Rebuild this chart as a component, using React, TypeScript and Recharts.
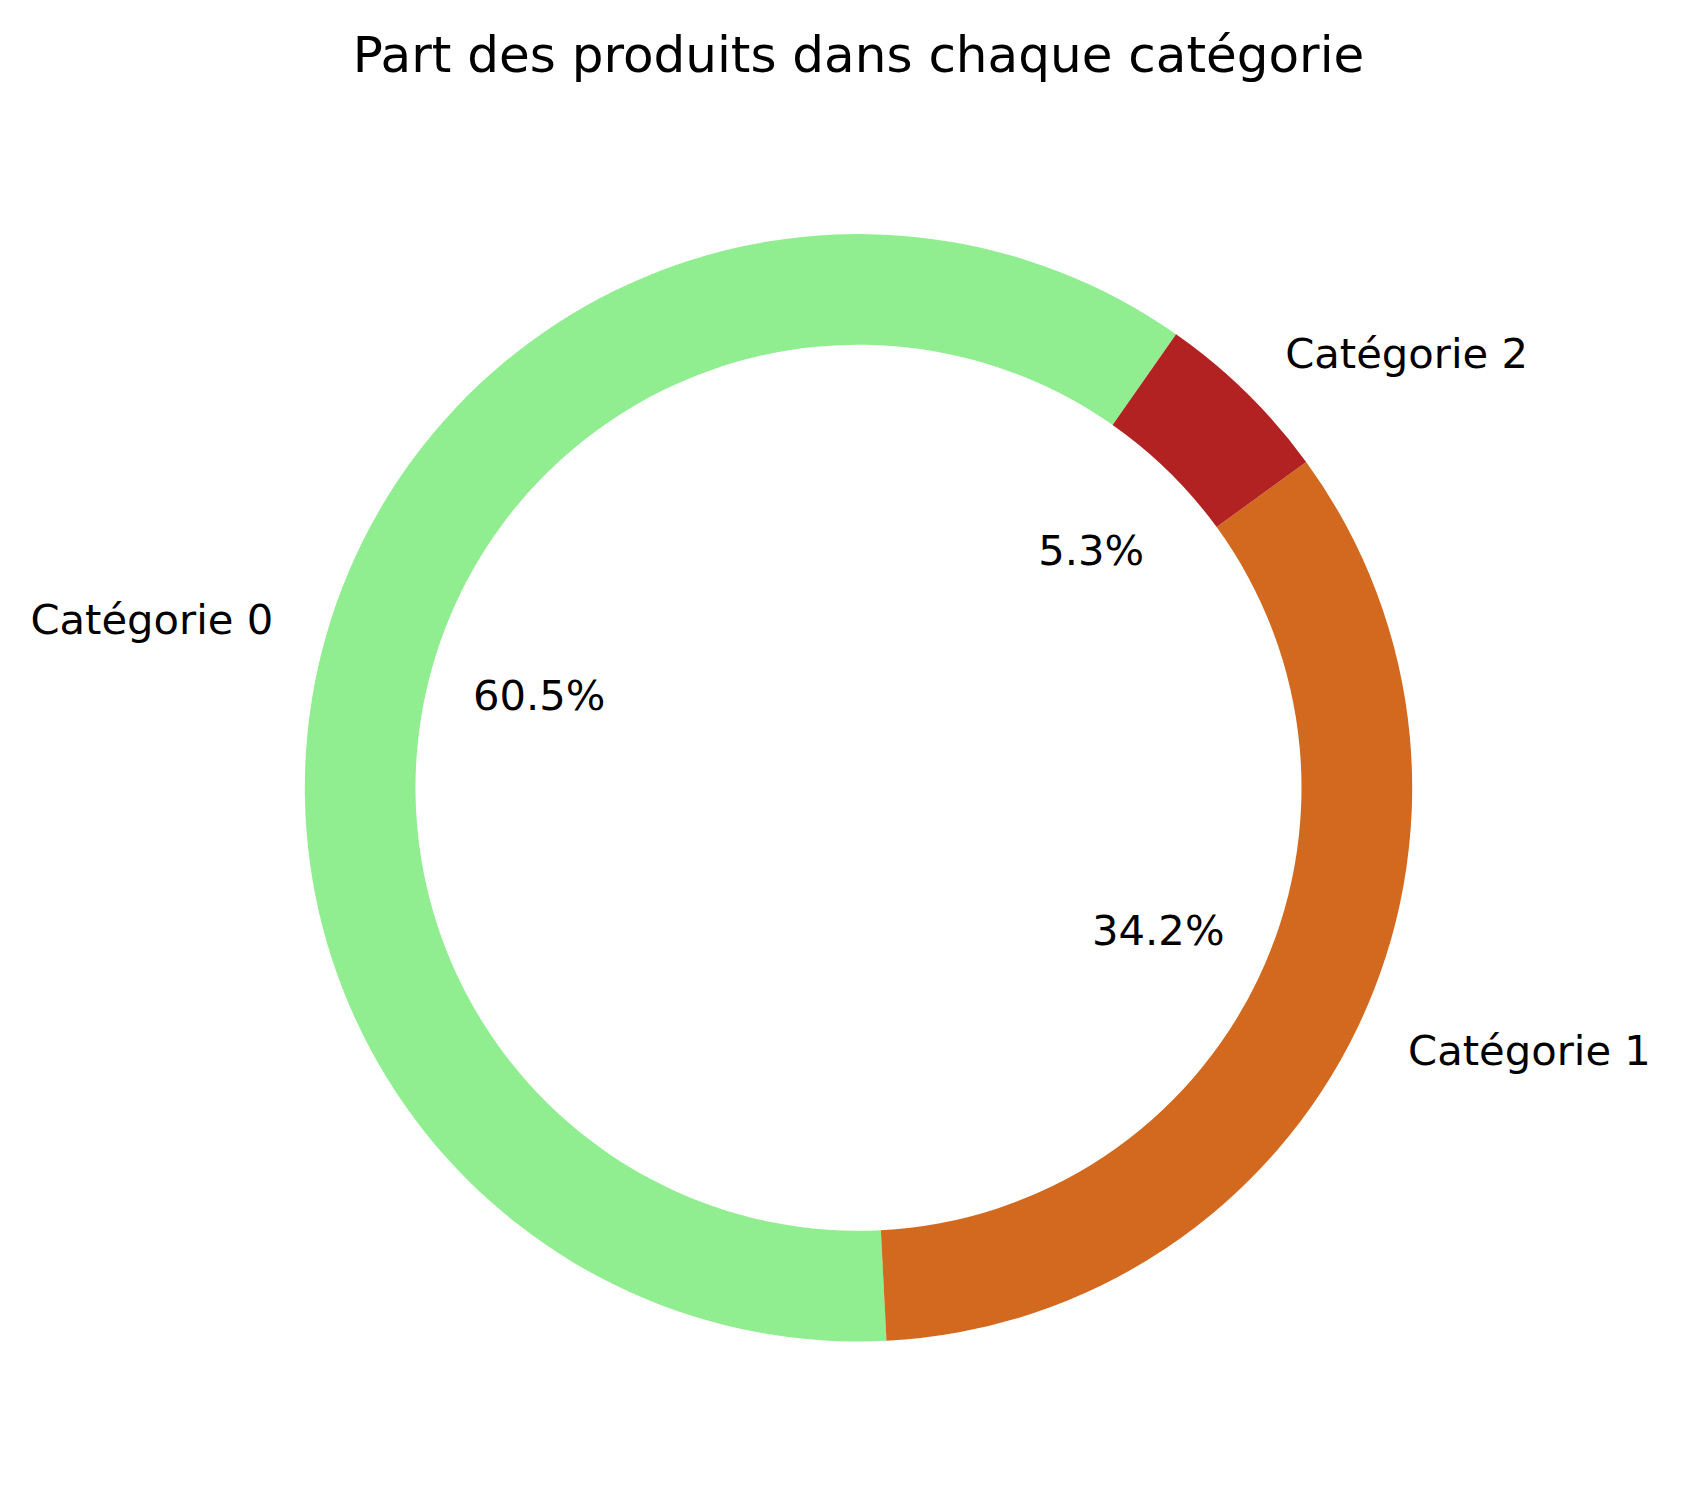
import React from 'react';
import { PieChart, Pie, Cell } from 'recharts';

const categories = ['Catégorie 0', 'Catégorie 1', 'Catégorie 2'];
const counts = [23, 13, 2];
const colors = ['#90EE90', '#D2691E', '#B22222'];

const data = categories.map((name, i) => ({ name, value: counts[i] }));

const FONT = '"DejaVu Sans", Verdana, sans-serif';
const RADIAN = Math.PI / 180;

const renderLabel = (props: any) => {
    const { cx, cy, midAngle, outerRadius, percent, name } = props;
    const cos = Math.cos(-midAngle * RADIAN);
    const sin = Math.sin(-midAngle * RADIAN);
    // outside label at 1.1 R, percentage at 0.6 R (matplotlib defaults)
    const lx = cx + outerRadius * 1.1 * cos;
    const ly = cy + outerRadius * 1.1 * sin;
    const px = cx + outerRadius * 0.6 * cos;
    const py = cy + outerRadius * 0.6 * sin;
    return (
        <g>
            <text
                x={lx}
                y={ly}
                textAnchor={cos < 0 ? 'end' : 'start'}
                dominantBaseline="central"
                fontFamily={FONT}
                fontSize={41.7}
                fill="#000"
            >
                {name}
            </text>
            <text
                x={px}
                y={py}
                textAnchor="middle"
                dominantBaseline="central"
                fontFamily={FONT}
                fontSize={41.7}
                fill="#000"
            >
                {(percent * 100).toFixed(1) + '%'}
            </text>
        </g>
    );
};

export default function App() {
    return (
        <div style={{ position: 'absolute', left: 0, top: 0, width: 1681, height: 1511, background: '#fff' }}>
            <PieChart width={1681} height={1511} margin={{ top: 0, right: 0, bottom: 0, left: 0 }}>
                <text
                    x={858.5}
                    y={71.7}
                    textAnchor="middle"
                    fontFamily={FONT}
                    fontSize={50}
                    fill="#000"
                >
                    Part des produits dans chaque catégorie
                </text>
                <Pie
                    data={data}
                    dataKey="value"
                    nameKey="name"
                    cx={858.5}
                    cy={787.8}
                    innerRadius={443}
                    outerRadius={553.7}
                    startAngle={55}
                    endAngle={415}
                    stroke="none"
                    label={renderLabel}
                    labelLine={false}
                    isAnimationActive={false}
                >
                    {data.map((d, i) => (
                        <Cell key={d.name} fill={colors[i]} />
                    ))}
                </Pie>
            </PieChart>
        </div>
    );
}
